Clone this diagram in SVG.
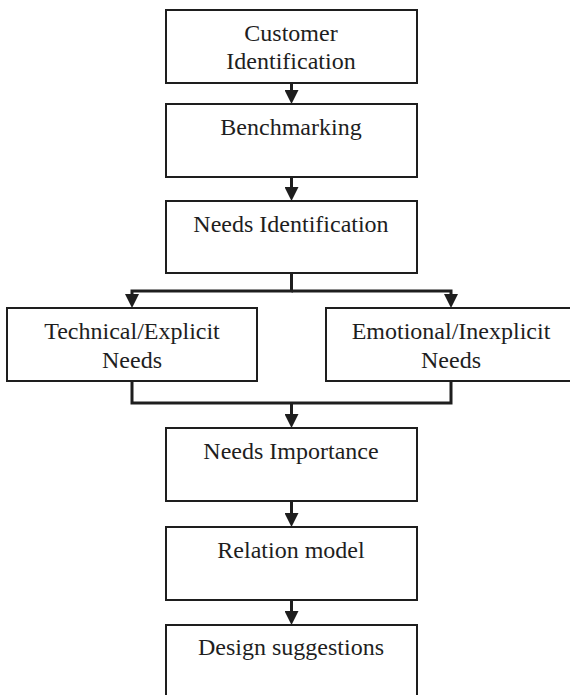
<svg xmlns="http://www.w3.org/2000/svg" width="570" height="695" viewBox="0 0 570 695">
  <style>
    .box { fill: #ffffff; stroke: #1e1e1e; stroke-width: 2; }
    .lbl { font-family: "Liberation Serif", "Times New Roman", serif; font-size: 24px; fill: #1e1e1e; text-anchor: middle; }
    .wire { fill: none; stroke: #1e1e1e; stroke-width: 3; stroke-linecap: butt; stroke-linejoin: miter; }
  </style>
  <defs>
    <marker id="head" viewBox="0 0 14 14" markerWidth="14" markerHeight="14" refX="2" refY="7" orient="auto" markerUnits="userSpaceOnUse">
      <path d="M0,0 L14,7 L0,14 z" fill="#1e1e1e"/>
    </marker>
  </defs>
  <rect width="570" height="695" fill="#ffffff"/>

  <g id="connectors">
    <line class="wire" x1="291.5" y1="83" x2="291.5" y2="92" marker-end="url(#head)"/>
    <line class="wire" x1="291.5" y1="177" x2="291.5" y2="189" marker-end="url(#head)"/>
    <polyline class="wire" points="291.5,273 291.5,291 132,291 132,296" marker-end="url(#head)"/>
    <polyline class="wire" points="291.5,291 451,291 451,296" marker-end="url(#head)"/>
    <polyline class="wire" points="132,381 132,403 451,403 451,381"/>
    <line class="wire" x1="291.5" y1="403" x2="291.5" y2="416" marker-end="url(#head)"/>
    <line class="wire" x1="291.5" y1="501" x2="291.5" y2="515" marker-end="url(#head)"/>
    <line class="wire" x1="291.5" y1="600" x2="291.5" y2="613" marker-end="url(#head)"/>
  </g>

  <g id="customer-identification">
    <rect class="box" x="166" y="10" width="251" height="73"/>
    <text class="lbl" x="291" y="40.5">Customer</text>
    <text class="lbl" x="291" y="68.5">Identification</text>
  </g>
  <g id="benchmarking">
    <rect class="box" x="166" y="104" width="251" height="73"/>
    <text class="lbl" x="291" y="135">Benchmarking</text>
  </g>
  <g id="needs-identification">
    <rect class="box" x="166" y="201" width="251" height="72"/>
    <text class="lbl" x="291" y="232">Needs Identification</text>
  </g>
  <g id="technical-needs">
    <rect class="box" x="7" y="308" width="250" height="73"/>
    <text class="lbl" x="132" y="339">Technical/Explicit</text>
    <text class="lbl" x="132" y="367.5">Needs</text>
  </g>
  <g id="emotional-needs">
    <rect class="box" x="326" y="308" width="250" height="73"/>
    <text class="lbl" x="451" y="339">Emotional/Inexplicit</text>
    <text class="lbl" x="451" y="367.5">Needs</text>
  </g>
  <g id="needs-importance">
    <rect class="box" x="166" y="428" width="251" height="73"/>
    <text class="lbl" x="291" y="459">Needs Importance</text>
  </g>
  <g id="relation-model">
    <rect class="box" x="166" y="527" width="251" height="73"/>
    <text class="lbl" x="291" y="558">Relation model</text>
  </g>
  <g id="design-suggestions">
    <rect class="box" x="166" y="625" width="251" height="73"/>
    <text class="lbl" x="291" y="655">Design suggestions</text>
  </g>
</svg>
